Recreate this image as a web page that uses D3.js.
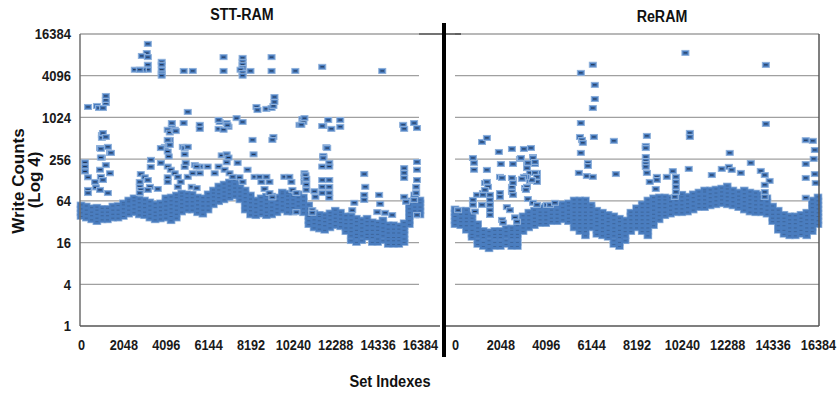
<!DOCTYPE html>
<html>
<head>
<meta charset="utf-8">
<script src="https://cdn.jsdelivr.net/npm/d3@7"></script>
<style>
  body { margin: 0; background: #fff; }
  svg { display: block; }
  .tick-label { font-family: "Liberation Sans", Arial, sans-serif; font-weight: bold; font-size: 15.5px; fill: #1a1a1a; }
  .title { font-family: "Liberation Sans", Arial, sans-serif; font-weight: bold; font-size: 17px; fill: #111; }
  .axis-title { font-family: "Liberation Sans", Arial, sans-serif; font-weight: bold; font-size: 17px; fill: #111; }
</style>
</head>
<body>
<div id="chart"></div>
<script>
// tick labels
const xTicks = [0, 2048, 4096, 6144, 8192, 10240, 12288, 14336, 16384];
const yTicks = [1, 4, 16, 64, 256, 1024, 4096, 16384];
const panelTitles = ["STT-RAM", "ReRAM"];

const sttBand = [
  [0,[38,43,49,56]], [256,[36,41,47,54]], [512,[34,39,44,51]], [768,[32,36,41,47,52]],
  [1024,[34,39,44,50]], [1280,[34,39,44,50]], [1536,[36,41,47,54]], [1792,[36,41,47,55]],
  [2048,[38,43,49,56,60]], [2304,[41,47,54,62,66]], [2560,[43,49,56,64,71]], [2816,[40,46,52,60,68]],
  [3072,[39,44,51,58,66]], [3328,[36,41,47,54,62]], [3584,[34,39,44,51,58]], [3840,[35,40,46,52,60]],
  [4096,[36,41,47,54,62,71]], [4352,[33,38,43,49,56,64,73]], [4608,[36,41,47,54,62,71,78]], [4864,[44,51,58,66,75,83]],
  [5120,[47,54,62,71,81]], [5376,[47,54,62,71,80]], [5632,[43,49,56,64,73]], [5888,[41,47,54,62,71]],
  [6144,[47,54,62,71,81]], [6400,[56,64,73,83,92]], [6656,[62,71,81,92,105]], [6912,[66,75,86,98,112]],
  [7168,[71,81,92,105,120]], [7424,[75,86,98,112,128]], [7680,[66,75,86,98,112]], [7936,[47,54,62,71,81,92]],
  [8192,[40,46,52,60,68,78]], [8448,[39,44,51,58,66]], [8704,[41,47,54,62,71]], [8960,[39,44,51,58,66,75]],
  [9216,[40,46,52,60,68,75]], [9472,[43,49,56,64,73]], [9728,[47,54,62,71,81,86]], [9984,[44,51,58,66,75,83]],
  [10240,[44,51,58,66,75]], [10496,[47,54,62,71,81]], [10752,[43,49,56,64,73]], [11008,[29,33,38,43,49,56]],
  [11264,[26,30,34,39,43]], [11520,[25,29,33,38,41]], [11776,[24,28,32,36,40]], [12032,[26,30,34,39,43]],
  [12288,[28,32,36,41,47]], [12544,[27,31,35,40,44]], [12800,[23,26,30,34,39]], [13056,[17,20,23,26,30,34,39]],
  [13312,[16,19,21,24,28,32,36]], [13568,[17,20,23,26,30,34]], [13824,[19,21,24,28,32,36]], [14080,[16,19,21,24,28,32]],
  [14336,[16,18,21,24,27,31]], [14592,[17,20,23,26,30,34]], [14848,[15,17,19,22,25,29]], [15104,[15,17,19,22,25,29]],
  [15360,[15,17,19,22,25,28]], [15616,[16,18,21,24,27,31]], [15872,[29,33,38,43,49,56,64]], [16128,[40,46,52,60,68,78]],
  [16384,[40,46,52,60,66]]
];

// STT-RAM: scattered sets above/below the band [set index, write count]
const sttOutliers = [
  [3230,11800],[3180,8700],[2940,7900],[3230,7600],[3230,5900],[3230,5000],[2990,5000],[2600,5000],[2840,5000],
  [3900,6500],[3900,5900],[3900,5000],[3900,4400],[3900,4100],[4965,4800],[5400,4800],[6890,7600],[6890,4800],
  [7810,7400],[7810,6500],[7810,5900],[7810,5300],[7710,5000],[7810,4500],[7810,4100],[8190,4800],[9210,7600],
  [9210,4800],[10360,4800],[11660,5500],[14560,4800],
  [340,1450],[770,1500],[870,1400],[1060,1400],[1200,1650],[1200,1830],[1200,2090],
  [8480,1450],[8530,1310],[8960,1360],[9210,1400],[9300,1500],[9350,1710],[9350,2020],
  [5160,1230],[4960,850],[4390,850],[4390,720],[4190,680],[5740,800],[5740,700],[6700,880],[6650,700],
  [7040,850],[7130,750],[7520,1000],[7810,880],[10700,970],[10750,880],[10560,800],[11710,770],[12100,700],
  [11950,940],[12530,940],[12530,750],[15570,800],[15620,700],[16100,850],[16240,720],
  [1010,570],[1010,520],[920,370],[1300,385],[1400,315],[1010,270],[4050,385],[4240,410],[4290,485],
  [4920,385],[5110,385],[5010,300],[8290,485],[8340,300],[9300,535],[9250,485],[11860,380],[11710,275],
  [193,230],[193,200],[193,170],[340,140],[680,120],[720,100],[920,92],[340,92],[340,83],[1300,83],
  [960,142],[1060,128],[920,180],[1200,210],[960,270],[960,360],[1450,315],[1060,610],[1200,535],[1400,160],
  [2890,156],[2840,120],[2840,102],[2890,92],[2840,83],[3080,140],[3230,128],[3330,102],[3230,92],[3370,198],
  [3380,250],[3710,95],[3860,370],[3860,226],
  [4290,620],[4530,680],[4580,650],[4190,485],[4290,410],[4190,330],[4240,280],[4190,200],[4340,180],[4190,140],
  [4190,120],[4530,160],[4680,142],[5010,198],[5060,226],[5010,370],[5160,384],[4820,120],[4680,102],[5160,142],
  [5400,160],[5500,210],[6650,940],[6890,680],[7080,790],
  [6800,290],[7040,300],[7130,270],[7040,230],[6650,200],[6460,160],[6120,200],[5740,200],[5740,160],[5590,200],
  [7570,226],[8050,180],[7660,140],[7810,120],[8390,142],[8630,142],[8960,142],[8720,120],[8870,95],[9110,120],
  [9110,83],[9250,72],[9830,142],[10070,142],[10170,120],[10220,92],[10410,83],[10410,44],[10800,160],[10800,140],
  [10800,120],[6940,180],[7180,160],[7330,142],[5350,102],[5590,98],
  [10800,1000],[10650,800],[11660,770],
  [11900,370],[11710,285],[11710,265],[12000,226],[12000,200],[11660,200],[10850,150],[10890,133],[10890,110],
  [10890,92],[11280,88],[11330,73],[11180,47],[11180,43],[11660,128],[11660,102],[11660,83],[12000,128],
  [12000,102],[12000,83],[12000,71],
  [13690,156],[13740,102],[13690,78],[13690,66],[13210,60],[13110,47],[14410,78],[14460,58],[14320,44],
  [14700,43],[15040,40],
  [15620,190],[15620,162],[15620,137],[16240,233],[16240,180],[16240,128],[16200,102],[16200,83],[16100,66],
  [16240,40],[15620,73],[15710,62]
];

// ReRAM: dense band
const reramBand = [
  [0,[29,33,38,43,49]], [256,[28,32,36,41,47]], [512,[24,28,32,36,41,47]], [768,[19,21,24,28,32,36,40]],
  [1024,[15,17,20,23,26,30]], [1280,[14,16,19,21,24]], [1536,[13,15,17,20,23]], [1792,[14,16,19,21,24]],
  [2048,[14,16,19,21,24]], [2304,[15,17,20,23,26]], [2560,[14,16,19,21,24,26]], [2816,[14,16,19,21,24,28,32]],
  [3072,[23,26,30,34,39]], [3328,[26,30,34,39,44]], [3584,[28,32,36,41,47]], [3840,[30,34,39,44,51]],
  [4096,[30,34,39,44,51,54]], [4352,[32,36,41,47,54]], [4608,[32,36,41,47,55]], [4864,[34,39,44,51,58]],
  [5120,[32,36,41,47,54,60]], [5376,[26,30,34,39,44,51,58,66]], [5632,[23,26,30,34,39,44,51,58,66]],
  [5888,[20,23,26,30,34,39,44,51,58,66]], [6144,[26,30,34,39,44,51,56]], [6400,[21,24,28,32,36,41,47]],
  [6656,[20,23,26,30,34,39,44]], [6912,[19,21,24,28,32,36,41]], [7168,[15,17,20,23,26,30,34,39]],
  [7424,[14,16,19,21,24,28,32,36]], [7680,[17,20,23,26,30,34]], [7936,[23,26,30,34,39,44]],
  [8192,[26,30,34,39,44,51]], [8448,[23,26,30,34,39,44,51,58]], [8704,[20,23,26,30,34,39,44,51,58,66]],
  [8960,[28,32,36,41,47,54,62,71]], [9216,[34,39,44,51,58,66,73]], [9472,[39,44,51,58,66,73]],
  [9728,[41,47,54,62,71]], [9984,[43,49,56,64,73]], [10240,[43,49,56,64,73,80]], [10496,[44,51,58,66,75]],
  [10752,[47,54,62,71,81]], [11008,[51,58,66,75,86]], [11264,[51,58,66,75,86,92]], [11520,[54,62,71,81,92]],
  [11776,[56,64,73,83,95]], [12032,[58,66,75,86,98]], [12288,[56,64,73,83,95,105]], [12544,[54,62,71,81,92]],
  [12800,[51,58,66,75,86]], [13056,[47,54,62,71,81,92]], [13312,[44,51,58,66,75,86]], [13568,[43,49,56,64,73,83]],
  [13824,[43,49,56,64,73,80]], [14080,[41,47,54,62,71]], [14336,[32,36,41,47,54]], [14592,[24,28,32,36,41,47]],
  [14848,[21,24,28,32,36,41]], [15104,[20,23,26,30,34,39]], [15360,[20,23,26,30,34,39]], [15616,[21,24,28,32,36,41]],
  [15872,[20,23,26,30,34,39,44]], [16128,[23,26,30,34,39,44,51,58,66]], [16384,[29,33,38,43,49,56,64,73]]
];

// ReRAM: scattered sets
const reramOutliers = [
  [10400,8740],[5680,4500],[6220,5900],[6310,3020],[6310,1890],[6220,1400],[5680,850],[5640,535],[5730,485],
  [5770,440],[6270,535],[5680,315],[6000,226],[6000,204],[5590,162],[5950,146],[6220,142],
  [7170,470],[7260,156],
  [8660,554],[8610,397],[8610,370],[8610,275],[8610,241],[8610,218],[8610,198],[8660,162],[9110,142],[9110,128],
  [8790,120],[9060,95],[9560,142],[9830,172],[9970,142],[9970,120],[9970,102],[9970,86],[9920,73],
  [10600,612],[10600,535],[10550,185],
  [11590,151],[12040,185],[12360,198],[12490,179],[12400,315],[12900,162],[13350,226],[13800,173],[13980,151],
  [14200,124],[13980,109],[13980,86],[13980,73],
  [14030,5870],[14030,825],
  [15830,480],[16150,470],[16240,347],[16190,258],[15830,218],[16240,156],[16280,116],[15830,137],[15830,71],
  [810,266],[860,226],[860,180],[1220,453],[1440,518],[1440,179],[1980,325],[2070,218],[2030,142],[2570,359],
  [2620,218],[2620,128],[3110,359],[3430,371],[2930,258],[3250,226],[3520,275],[3610,218],[3700,162],[3700,128],
  [3250,146],[3380,124],[3160,98],[1350,116],[1260,83],[1530,78],[2030,83],[2570,92],
  [990,78],[810,66],[810,56],[900,45],[1220,56],[1580,78],[1580,66],[1580,56],[1580,47],[1440,120],[1490,102],
  [1350,92],[1260,78],[2030,73],[2340,52],[2480,47],[2570,102],[2570,86],[2620,78],[2980,266],[3520,266],
  [3610,233],[3290,226],[3250,190],[3380,162],[3610,162],[3700,142],[3700,120],[3470,128],[3200,142],[3110,142],
  [3020,133],[2120,137],[2570,137],[2620,116],[3290,68],[3250,102],[3200,92],[3520,60],[3700,56],[4150,56],
  [4290,56],[4510,60],[140,47],[1580,40],[2120,34],[2170,31],[2710,37],[2800,32]
];

const W = 837, H = 394;
const svg = d3.select("#chart").append("svg")
  .attr("width", W).attr("height", H);

const y = d3.scaleLog().base(4).domain([1, 16384]).range([326, 34]);

const panels = [
  { title: panelTitles[0], band: sttBand, outliers: sttOutliers,
    x: d3.scaleLinear().domain([0, 16384]).range([81, 420]), gx: [80, 419], titleX: 242, titleY: 20 },
  { title: panelTitles[1], band: reramBand, outliers: reramOutliers,
    x: d3.scaleLinear().domain([0, 16384]).range([455, 818]), gx: [455, 819], titleX: 662, titleY: 22 }
];

const fillBlue = "#4a7dbf", glow = "#8fb1db", dashCol = "#1c2c48";

panels.forEach(p => {
  const g = svg.append("g");

  // gridlines
  g.selectAll("line.grid")
    .data(yTicks.filter(t => t > 1))
    .enter().append("line")
    .attr("x1", p.gx[0]).attr("x2", p.gx[1])
    .attr("y1", d => y(d)).attr("y2", d => y(d))
    .attr("stroke", "#a0a0a0").attr("stroke-width", 1.3);

  // title
  g.append("text").attr("class", "title")
    .attr("transform", `translate(${p.titleX},${p.titleY}) scale(0.84,1)`)
    .attr("text-anchor", "middle").text(p.title);

  // x axis labels
  const xAxis = d3.axisBottom(p.x).tickValues(xTicks).tickSize(0).tickPadding(0).tickFormat(d3.format("d"));
  const ax = g.append("g").attr("transform", "translate(0,339)").call(xAxis);
  ax.select(".domain").remove();
  ax.selectAll("text").attr("class", "tick-label").attr("dy", "0.72em")
    .attr("font-size", null).attr("font-family", null)
    .attr("transform", "scale(0.82,1)");

  // dense band: glow, fill, then faint dashes
  const bandPts = [];
  p.band.forEach(([idx, vals]) => vals.forEach(v => bandPts.push([idx, v])));
  const bg = g.append("g");
  bg.selectAll("rect.glow").data(bandPts).enter().append("rect")
    .attr("x", d => p.x(d[0]) - 3.5).attr("y", d => y(d[1]) - 2.5)
    .attr("width", 7).attr("height", 5)
    .attr("fill", glow).attr("stroke", glow).attr("stroke-width", 1.6);
  bg.selectAll("rect.fill").data(bandPts).enter().append("rect")
    .attr("x", d => p.x(d[0]) - 3.5).attr("y", d => y(d[1]) - 2.5)
    .attr("width", 7).attr("height", 5).attr("fill", fillBlue);
  bg.selectAll("line.dash").data(bandPts).enter().append("line")
    .attr("x1", d => p.x(d[0]) - 1.5).attr("x2", d => p.x(d[0]) + 1.5)
    .attr("y1", d => y(d[1])).attr("y2", d => y(d[1]))
    .attr("stroke", dashCol).attr("stroke-width", 0.8).attr("opacity", 0.35);

  // scattered sets
  const m = g.selectAll("g.mk").data(p.outliers).enter().append("g")
    .attr("transform", d => `translate(${p.x(d[0])},${y(d[1])})`);
  m.append("rect")
    .attr("x", -3.5).attr("y", -2.5).attr("width", 7).attr("height", 5)
    .attr("fill", fillBlue).attr("stroke", glow).attr("stroke-width", 1);
  m.append("line")
    .attr("x1", -1.8).attr("x2", 1.8).attr("y1", 0).attr("y2", 0)
    .attr("stroke", dashCol).attr("stroke-width", 1);
});

// left panel y axis
const yAxis = d3.axisLeft(y).tickValues(yTicks).tickSize(0).tickPadding(0).tickFormat(d3.format("d"));
const ay = svg.append("g").attr("transform", "translate(71,0)").call(yAxis);
ay.select(".domain").remove();
ay.selectAll("text").attr("class", "tick-label").attr("x", 0)
  .attr("font-size", null).attr("font-family", null)
  .attr("transform", "scale(0.84,1)");

// axis frame lines
const frame = [
  [80, 34, 80, 326, "#6e6e6e"],
  [80, 326, 440, 326, "#555"],
  [419, 34, 461, 34, "#444"],
  [445, 326, 819, 326, "#555"],
  [819, 34, 819, 326, "#555"]
];
svg.selectAll("line.frame").data(frame).enter().append("line")
  .attr("x1", d => d[0]).attr("y1", d => d[1]).attr("x2", d => d[2]).attr("y2", d => d[3])
  .attr("stroke", d => d[4]).attr("stroke-width", 1.5);

// divider between the two charts
svg.append("rect").attr("x", 442).attr("y", 23).attr("width", 4).attr("height", 334).attr("fill", "#000");

// axis titles
svg.append("text").attr("class", "axis-title")
  .attr("transform", "translate(24,181) rotate(-90)")
  .attr("text-anchor", "middle").text("Write Counts");
svg.append("text").attr("class", "axis-title")
  .attr("transform", "translate(40,180) rotate(-90)")
  .attr("font-size", 16)
  .attr("text-anchor", "middle").text("(Log 4)");
svg.append("text").attr("class", "axis-title")
  .attr("transform", "translate(390,387) scale(0.86,1)")
  .attr("text-anchor", "middle").text("Set Indexes");
</script>
</body>
</html>
